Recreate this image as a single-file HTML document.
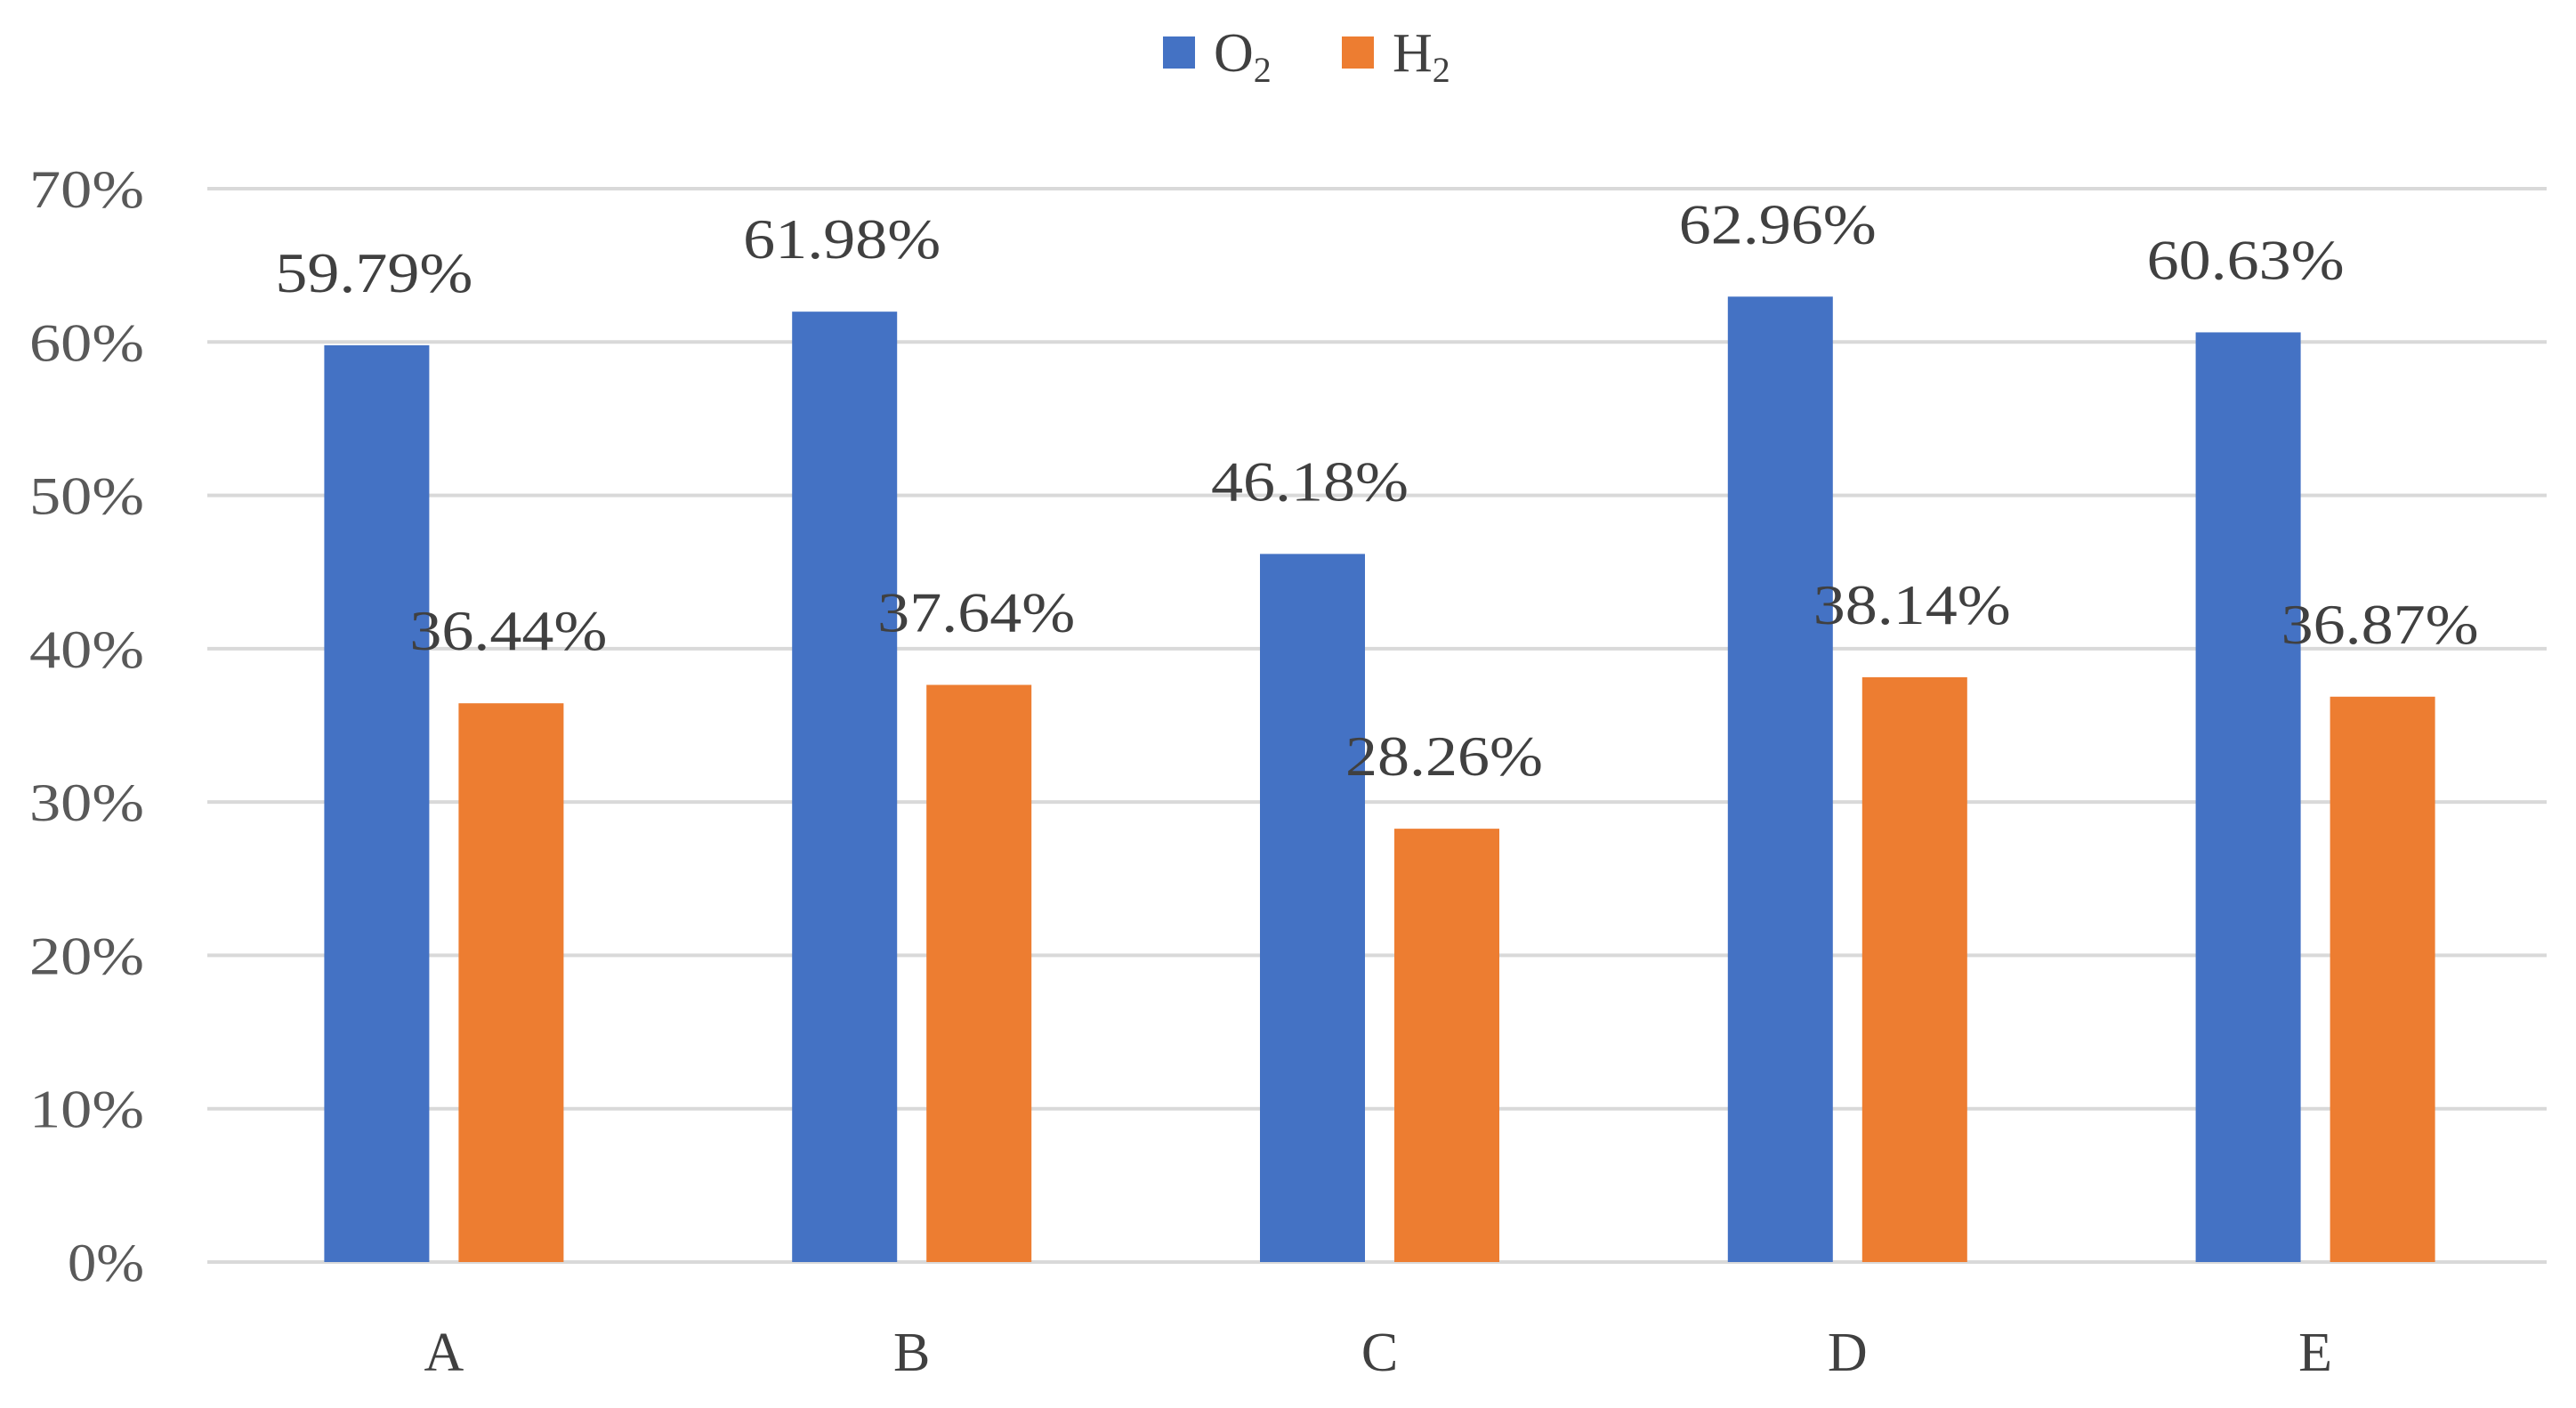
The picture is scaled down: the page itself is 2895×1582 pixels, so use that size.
<!DOCTYPE html>
<html><head><meta charset="utf-8"><style>
html,body{margin:0;padding:0;background:#fff;}
svg{display:block;font-family:"Liberation Serif",serif;}
</style></head><body>
<svg id="chart" width="2895" height="1582" viewBox="0 0 2895 1582">
<g id="legend">
 <g>
  <rect x="1307" y="41" width="36" height="36" fill="#4472C4"/>
  <text x="1364" y="80" font-size="62" fill="#404040">O<tspan font-size="40" dy="12">2</tspan></text>
 </g>
 <g>
  <rect x="1508" y="41" width="36" height="36" fill="#ED7D31"/>
  <text x="1565" y="80" font-size="62" fill="#404040">H<tspan font-size="40" dy="12">2</tspan></text>
 </g>
</g>
<g id="grid"></g><g id="bars"></g><g id="labels"></g>
</svg>
<script>
const categories = ["A","B","C","D","E"];
const o2Values = [59.79, 61.98, 46.18, 62.96, 60.63];
const h2Values = [36.44, 37.64, 28.26, 38.14, 36.87];
const yTicks = [0,10,20,30,40,50,60,70];
const NS="http://www.w3.org/2000/svg";
const L=233,R=2862,Y0=1418,Y70=212;
function y(v){return Y0-(Y0-Y70)*v/70;}
function cx(i){return L+(R-L)/5*(i+0.5)+3;}
function mk(tag,attrs,parent,text){const e=document.createElementNS(NS,tag);for(const k in attrs)e.setAttribute(k,attrs[k]);if(text!==undefined)e.textContent=text;parent.appendChild(e);return e;}
const grid=document.getElementById('grid'),bars=document.getElementById('bars'),labels=document.getElementById('labels');
yTicks.forEach(t=>{
 const ln=mk('line',{x1:L,x2:R,y1:y(t),y2:y(t),stroke:'#d9d9d9','stroke-width':4},grid);
 
 
 const w=(t===0?2:3)*43;
 const tx=mk('text',{x:162,y:y(t)+21,'font-size':60,fill:'#595959','text-anchor':'end',textLength:w,lengthAdjust:'spacingAndGlyphs'},grid,t+'%');
 
 
});
const BW=118,GAP=33;
categories.forEach((c,i)=>{
 const ctr=cx(i);
 const series=[[o2Values[i],'#4472C4',ctr-GAP/2-BW,'o2'],[h2Values[i],'#ED7D31',ctr+GAP/2,'h2']];
 series.forEach(([v,col,x,s])=>{
  const r=mk('rect',{x:x,y:y(v),width:BW,height:Y0-y(v),fill:col},bars);
  
  
  const t=mk('text',{x:x+BW/2-3,y:y(v)-60,'font-size':63,fill:'#404040','text-anchor':'middle',textLength:222,lengthAdjust:'spacingAndGlyphs'},labels,v.toFixed(2)+'%');
  
  
 });
 const t=mk('text',{x:ctr,y:1540,'font-size':62,fill:'#404040','text-anchor':'middle'},labels,c);
 
 
});
</script>
</body></html>
